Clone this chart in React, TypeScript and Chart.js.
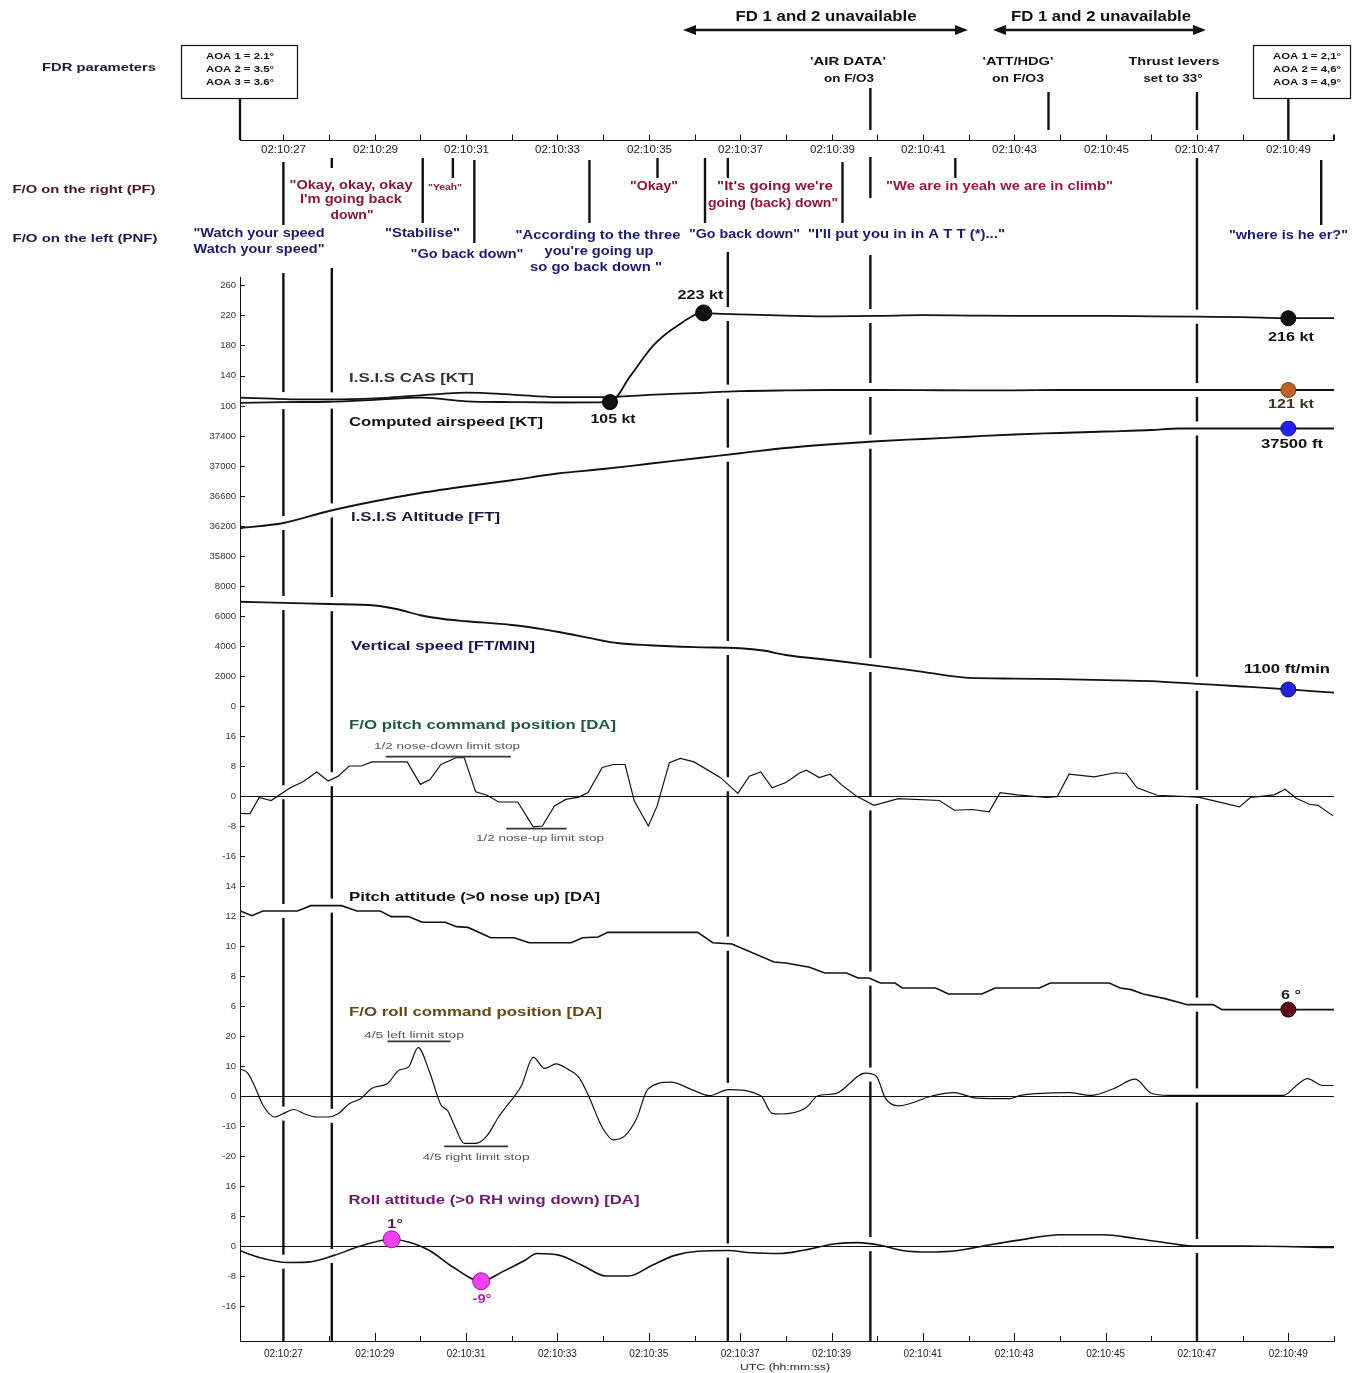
import React, { useEffect, useRef } from 'react';
import { Chart, registerables } from 'chart.js';
Chart.register(...registerables);

const FONT = '"Liberation Sans", Arial, Helvetica, sans-serif';

// time axis: seconds after 02:10:00 UTC
const X_MIN = 26.05;
const X_MAX = 50;
const xTickSeconds = [27, 28, 29, 30, 31, 32, 33, 34, 35, 36, 37, 38, 39, 40, 41, 42, 43, 44, 45, 46, 47, 48, 49, 50];

// Computed airspeed [KT]
const computedT = [26.05, 27, 28, 29, 30, 30.5, 31, 32, 33, 34.15, 34.6, 35.1, 35.6, 36.2, 36.5, 37, 38, 39, 40, 41, 42, 43, 44, 45, 46, 47, 48, 49, 50];
const computedV = [104, 105, 105.5, 108, 111, 109, 106, 105, 104.5, 105, 140, 180, 205, 223, 222, 221, 219.5, 218.5, 219, 220, 219.5, 219, 219, 219, 218.5, 218, 217.5, 216, 216];
// I.S.I.S CAS [KT]
const casT = [26.05, 27, 28, 29, 30, 31, 32, 33, 34, 35, 36, 37, 38, 39, 40, 41, 42, 43, 44, 45, 46, 47, 48, 49, 50];
const casV = [111, 109, 108.5, 110, 114, 117.5, 115, 111.5, 111.5, 114.5, 117, 119.5, 120.5, 121, 121, 120.8, 120.5, 120.5, 121, 121, 121, 121, 121, 121, 121];
// I.S.I.S Altitude [FT]
const altT = [26.05, 27, 28, 29, 30, 31, 32, 33, 34, 35, 36, 37, 38, 39, 40, 41, 42, 43, 44, 45, 46, 46.6, 47, 48, 49, 50];
const altV = [36170, 36240, 36400, 36530, 36640, 36730, 36810, 36900, 36960, 37030, 37100, 37170, 37240, 37290, 37330, 37360, 37390, 37420, 37440, 37460, 37480, 37500, 37500, 37500, 37500, 37500];
// Vertical speed [FT/MIN]
const vsT = [26.05, 27, 28, 29, 29.5, 30, 30.5, 31, 32, 32.7, 33, 34, 34.3, 35, 36, 37, 37.5, 38, 39, 40, 41, 42, 43, 44, 45, 46, 47, 48, 49, 50];
const vsV = [6950, 6870, 6800, 6700, 6450, 6050, 5800, 5650, 5400, 5110, 4950, 4350, 4200, 4050, 3920, 3850, 3700, 3400, 3050, 2680, 2270, 1870, 1830, 1790, 1730, 1660, 1480, 1300, 1110, 890];
// F/O pitch command position [DA]
const pcmdT = [26.04, 26.18, 26.27, 26.47, 26.73, 27.15, 27.43, 27.73, 27.98, 28.2, 28.44, 28.7, 28.94, 29.71, 30.0, 30.21, 30.45, 30.78, 30.96, 31.21, 31.46, 31.71, 32.13, 32.47, 32.67, 32.93, 33.18, 33.47, 33.67, 33.98, 34.22, 34.48, 34.68, 34.99, 35.18, 35.45, 35.69, 35.99, 36.32, 36.57, 36.95, 37.2, 37.45, 37.7, 38.0, 38.31, 38.45, 38.73, 38.97, 39.21, 39.54, 39.93, 40.46, 41.36, 41.69, 42.08, 42.45, 42.69, 43.07, 43.7, 43.94, 44.2, 44.75, 45.21, 45.45, 45.69, 46.13, 47.03, 47.93, 48.17, 48.69, 48.93, 49.17, 49.46, 49.65, 49.98];
const pcmdV = [-4.6, -4.7, -4.7, -0.4, -1.2, 2.2, 3.8, 6.4, 4.0, 5.3, 8.0, 8.0, 9.1, 9.1, 3.1, 4.4, 8.4, 10.2, 10.2, 1.1, 0.2, -1.6, -1.6, -8.2, -8.0, -2.7, -0.9, -0.3, 0.9, 7.6, 8.4, 8.4, -1.3, -8.0, -2.7, 8.9, 10.0, 9.1, 6.7, 4.9, 0.7, 5.3, 6.4, 2.2, 3.6, 6.2, 6.9, 4.9, 5.8, 3.1, 0, -2.5, -0.7, -1.2, -3.8, -3.6, -4.2, 0.9, 0.3, -0.4, -0.2, 5.8, 5.1, 6.2, 6.0, 2.2, 0.2, -0.3, -2.9, -0.4, 0.3, 1.8, -0.6, -2.2, -2.5, -5.3];
// Pitch attitude (>0 nose up) [DA]
const pattT = [26.04, 26.31, 26.55, 27.31, 27.6, 28.27, 28.61, 29.12, 29.36, 29.74, 30.04, 30.54, 30.79, 31.04, 31.54, 32.05, 32.38, 33.3, 33.55, 33.89, 34.1, 36.07, 36.4, 36.82, 37.74, 38.0, 38.52, 38.85, 39.33, 39.58, 39.82, 40.07, 40.39, 40.55, 41.28, 41.56, 42.29, 42.58, 43.55, 43.79, 45.08, 45.32, 45.56, 45.82, 46.3, 46.79, 47.35, 47.55, 50];
const pattV = [12.36, 12.02, 12.33, 12.33, 12.69, 12.69, 12.33, 12.33, 11.96, 11.96, 11.58, 11.58, 11.29, 11.24, 10.55, 10.55, 10.22, 10.22, 10.55, 10.6, 10.91, 10.91, 10.22, 10.13, 8.93, 8.87, 8.58, 8.2, 8.2, 7.87, 7.87, 7.53, 7.53, 7.2, 7.2, 6.8, 6.8, 7.2, 7.2, 7.53, 7.53, 7.2, 7.09, 6.8, 6.49, 6.09, 6.09, 5.76, 5.76];
// F/O roll command position [DA]
const rcmdT = [26.04, 26.22, 26.39, 26.55, 26.81, 26.98, 27.23, 27.47, 27.73, 27.98, 28.19, 28.44, 28.69, 28.94, 29.28, 29.53, 29.74, 29.95, 30.2, 30.45, 30.6, 30.75, 30.96, 31.21, 31.46, 31.71, 31.88, 32.21, 32.47, 32.72, 32.97, 33.22, 33.47, 33.71, 33.89, 34.0, 34.22, 34.48, 34.73, 34.98, 35.48, 35.99, 36.32, 36.74, 37.45, 37.7, 37.88, 38.45, 38.69, 39.09, 39.74, 39.98, 40.18, 40.47, 41.2, 41.68, 42.17, 42.9, 43.14, 44.2, 44.68, 45.17, 45.65, 45.98, 46.38, 48.89, 49.22, 49.42, 49.75, 49.99];
const rcmdV = [9.1, 7.6, 2.6, -3.0, -7.0, -6.0, -4.5, -6.0, -7.0, -7.0, -6.0, -2.6, -0.9, 2.6, 4.2, 8.6, 9.7, 16.1, 8.0, -3.0, -5.0, -10.0, -15.8, -15.8, -13.2, -7.0, -3.5, 3.4, 12.9, 9.2, 10.7, 9.0, 6.2, -1.0, -7.6, -11.0, -14.6, -13.2, -7.6, 2.3, 4.6, 1.8, 0.1, 2.1, 0.1, -5.8, -6.0, -3.8, 0, 0.8, 7.6, 6.6, -0.8, -3.3, 0, 1.1, -0.7, -0.9, 0.2, 1.1, 0.2, 2.4, 5.6, 1.1, 0.2, 0.2, 4.1, 5.8, 3.5, 3.5];
// Roll attitude (>0 RH wing down) [DA]
const rattT = [26.04, 26.43, 27.1, 27.52, 28.11, 28.69, 29.37, 29.86, 30.2, 30.71, 31.33, 31.79, 32.29, 32.55, 33.05, 33.55, 34.06, 34.56, 35.06, 35.57, 36.07, 36.74, 37.24, 37.88, 38.36, 39.09, 39.58, 40.07, 40.55, 41.12, 41.77, 42.41, 43.06, 44.03, 44.93, 45.66, 46.47, 46.87, 48.0, 50];
const rattV = [-1.2, -2.9, -4.4, -4.3, -2.5, 0, 1.8, 0.6, -1.2, -5.6, -9.4, -6.9, -3.8, -2.0, -2.5, -5.2, -8.0, -8.0, -5.2, -2.5, -1.4, -1.2, -1.8, -2.0, -1.2, 0.6, 0.9, 0.2, -1.2, -1.6, -1.2, 0.2, 1.5, 3.0, 3.0, 2.0, 0.6, 0, 0, -0.4];

// limit stops [time start, time end], value
const noseDownStopT = [29.24, 31.98];
const noseDownStopV = [10.5, 10.5];
const noseUpStopT = [31.88, 33.2];
const noseUpStopV = [-8.7, -8.7];
const leftStopT = [29.28, 30.66];
const leftStopV = [18.2, 18.2];
const rightStopT = [30.52, 31.92];
const rightStopV = [-16.8, -16.8];

// highlighted values
const markCasLow = { t: 34.15, v: 105 };
const markCasHigh = { t: 36.2, v: 223 };
const markCasEnd = { t: 49, v: 216 };
const markIsisEnd = { t: 49, v: 121 };
const markAltEnd = { t: 49, v: 37500 };
const markVsEnd = { t: 49, v: 1100 };
const markPattEnd = { t: 49, v: 5.76 };
const markRollHigh = { t: 29.37, v: 1.8 };
const markRollLow = { t: 31.33, v: -9.4 };

// event times (vertical lines)
const eventTimes = [26.05, 27.0, 28.06, 30.05, 30.71, 31.18, 33.7, 35.19, 36.23, 36.73, 39.24, 39.85, 41.71, 43.75, 47.0, 49.0, 49.72];

// y-axis ticks per panel
const casTicks = [100, 140, 180, 220, 260];
const altTicks = [35800, 36200, 36600, 37000, 37400];
const vsTicks = [0, 2000, 4000, 6000, 8000];
const pcmdTicks = [-16, -8, 0, 8, 16];
const pattTicks = [6, 8, 10, 12, 14];
const rcmdTicks = [-20, -10, 0, 10, 20];
const rattTicks = [-16, -8, 0, 8, 16];

const pts = (ts: number[], vs: number[]) => ts.map((t, i) => ({ x: t, y: vs[i] }));

function interp(ts: number[], vs: number[], t: number) {
  if (t <= ts[0]) return vs[0];
  for (let i = 1; i < ts.length; i++) {
    if (t <= ts[i]) {
      const f = (t - ts[i - 1]) / (ts[i] - ts[i - 1]);
      return vs[i - 1] + f * (vs[i] - vs[i - 1]);
    }
  }
  return vs[vs.length - 1];
}

function txt(ctx: CanvasRenderingContext2D, s: string, x: number, y: number, size: number, bold: boolean, color: string, w?: number, align: CanvasTextAlign = 'center') {
  ctx.save();
  ctx.font = `${bold ? 'bold ' : ''}${size}px ${FONT}`;
  const m = ctx.measureText(s).width;
  const sx = w ? w / m : 1;
  ctx.translate(x, y);
  ctx.scale(sx, 1);
  ctx.fillStyle = color;
  ctx.textAlign = align;
  ctx.textBaseline = 'middle';
  ctx.fillText(s, 0, 0);
  ctx.restore();
}

const PF = '#861736';
const PNF = '#1b1b66';

const annotPlugin = {
  id: 'annot',
  beforeDatasetsDraw(chart: any) {
    const ctx: CanvasRenderingContext2D = chart.ctx;
    const xs = chart.scales.x;
    const area = chart.chartArea;
    const X = (t: number) => xs.getPixelForValue(t);
    ctx.save();
    // zero lines
    ctx.strokeStyle = '#111';
    ctx.lineWidth = 1;
    ['yPcmd', 'yRcmd', 'yRatt'].forEach((id) => {
      const y = Math.round(chart.scales[id].getPixelForValue(0)) + 0.5;
      ctx.beginPath();
      ctx.moveTo(area.left, y);
      ctx.lineTo(area.right, y);
      ctx.stroke();
    });
    // inward ticks on y axes
    ['yCas', 'yAlt', 'yVs', 'yPcmd', 'yPatt', 'yRcmd', 'yRatt'].forEach((id) => {
      const sc = chart.scales[id];
      sc.ticks.forEach((tk: any) => {
        const y = Math.round(sc.getPixelForValue(tk.value)) + 0.5;
        ctx.beginPath();
        ctx.moveTo(area.left, y);
        ctx.lineTo(area.left + 5, y);
        ctx.stroke();
      });
    });
    // inward ticks on bottom axis and top axis
    const topY = 140.5;
    ctx.beginPath();
    ctx.moveTo(area.left, topY);
    ctx.lineTo(area.right, topY);
    ctx.stroke();
    xTickSeconds.forEach((s) => {
      const x = Math.round(X(s)) + 0.5;
      const major = s % 2 === 1;
      ctx.beginPath();
      ctx.moveTo(x, area.bottom);
      ctx.lineTo(x, area.bottom - (major ? 8 : 5));
      ctx.moveTo(x, topY);
      ctx.lineTo(x, topY - 6);
      ctx.stroke();
      if (major) txt(ctx, `02:10:${s}`, x, 150, 10, false, '#222', 45);
    });
    ctx.beginPath();
    ctx.moveTo(area.left + 0.5, topY);
    ctx.lineTo(area.left + 0.5, topY - 6);
    ctx.moveTo(area.right - 0.5, topY);
    ctx.lineTo(area.right - 0.5, topY - 6);
    ctx.stroke();

    // event lines with gaps where they cross curves
    const segs: number[][][] = [
      [[98, 140]],
      [[162, 225], [273, 1341]],
      [[158, 168], [268, 1341]],
      [[158, 223]],
      [[158, 178]],
      [[160, 243]],
      [[160, 223]],
      [[158, 178]],
      [[158, 223]],
      [[158, 178], [252, 1341]],
      [[162, 223]],
      [[88, 130], [157, 198], [255, 1341]],
      [[158, 178]],
      [[92, 130]],
      [[92, 130], [158, 1341]],
      [[98, 140]],
      [[160, 225]],
    ];
    const curves: [number[], number[], string][] = [
      [computedT, computedV, 'yCas'], [casT, casV, 'yCas'], [altT, altV, 'yAlt'], [vsT, vsV, 'yVs'],
      [pcmdT, pcmdV, 'yPcmd'], [pattT, pattV, 'yPatt'], [rcmdT, rcmdV, 'yRcmd'], [rattT, rattV, 'yRatt'],
    ];
    ctx.strokeStyle = '#111';
    ctx.lineWidth = 2.4;
    eventTimes.forEach((t, i) => {
      const x = X(t);
      const gaps = curves.map(([ts, vs, id]) => {
        const y = chart.scales[id].getPixelForValue(interp(ts, vs, t));
        return [y - 7, y + 7];
      }).sort((a, b) => a[0] - b[0]);
      segs[i].forEach(([a, b]) => {
        let cur = a;
        gaps.forEach(([g0, g1]) => {
          if (g1 < cur || g0 > b) return;
          if (g0 > cur) {
            ctx.beginPath();
            ctx.moveTo(x, cur);
            ctx.lineTo(x, g0);
            ctx.stroke();
          }
          cur = Math.max(cur, g1);
        });
        if (cur < b) {
          ctx.beginPath();
          ctx.moveTo(x, cur);
          ctx.lineTo(x, b);
          ctx.stroke();
        }
      });
    });

    // FDR boxes
    ctx.lineWidth = 1.2;
    ctx.strokeRect(181.5, 45.5, 116, 53);
    ctx.strokeRect(1253.5, 45.5, 97, 53);

    // FD arrows
    const arrow = (x1: number, x2: number, y: number) => {
      ctx.lineWidth = 2.4;
      ctx.beginPath();
      ctx.moveTo(x1 + 6, y);
      ctx.lineTo(x2 - 6, y);
      ctx.stroke();
      ctx.fillStyle = '#111';
      ctx.beginPath();
      ctx.moveTo(x1, y); ctx.lineTo(x1 + 13, y - 5); ctx.lineTo(x1 + 13, y + 5); ctx.closePath(); ctx.fill();
      ctx.beginPath();
      ctx.moveTo(x2, y); ctx.lineTo(x2 - 13, y - 5); ctx.lineTo(x2 - 13, y + 5); ctx.closePath(); ctx.fill();
    };
    arrow(683, 968, 30);
    arrow(993, 1206, 30);
    ctx.restore();
  },
  afterDraw(chart: any) {
    const ctx: CanvasRenderingContext2D = chart.ctx;
    // header
    txt(ctx, 'FD 1 and 2 unavailable', 826, 17, 14, true, '#111', 181);
    txt(ctx, 'FD 1 and 2 unavailable', 1101, 17, 14, true, '#111', 180);
    txt(ctx, 'FDR parameters', 99, 68, 11.5, true, '#1a1a33', 114);
    txt(ctx, 'AOA 1 = 2.1\u00b0', 240, 57, 8.5, true, '#111', 68);
    txt(ctx, 'AOA 2 = 3.5\u00b0', 240, 70, 8.5, true, '#111', 68);
    txt(ctx, 'AOA 3 = 3.6\u00b0', 240, 83, 8.5, true, '#111', 68);
    txt(ctx, 'AOA 1 = 2,1\u00b0', 1307, 57, 8.5, true, '#111', 68);
    txt(ctx, 'AOA 2 = 4,6\u00b0', 1307, 70, 8.5, true, '#111', 68);
    txt(ctx, 'AOA 3 = 4,9\u00b0', 1307, 83, 8.5, true, '#111', 68);
    txt(ctx, "'AIR DATA'", 848, 62, 11, true, '#111', 76);
    txt(ctx, 'on F/O3', 849, 79, 11, true, '#111', 50);
    txt(ctx, "'ATT/HDG'", 1018, 62, 11, true, '#111', 71);
    txt(ctx, 'on F/O3', 1018, 79, 11, true, '#111', 52);
    txt(ctx, 'Thrust levers', 1174, 62, 11, true, '#111', 91);
    txt(ctx, 'set to 33\u00b0', 1173, 79, 11, true, '#111', 59);
    txt(ctx, 'F/O on the right (PF)', 84, 190, 11.5, true, '#4a1528', 143);
    txt(ctx, 'F/O on the left (PNF)', 85, 239, 11.5, true, '#1a1a4a', 145);

    // PF quotes
    txt(ctx, '"Okay, okay, okay', 351, 186, 12, true, PF, 123);
    txt(ctx, "I'm going back", 351, 200, 12, true, PF, 102);
    txt(ctx, 'down"', 352, 216, 12, true, PF, 43);
    txt(ctx, '"Yeah"', 445, 188, 9, true, PF, 34);
    txt(ctx, '"Okay"', 654, 187, 12, true, PF, 48);
    txt(ctx, '"It\'s going we\'re', 775, 187, 12, true, PF, 116);
    txt(ctx, 'going (back) down"', 773, 204, 12, true, PF, 130);
    txt(ctx, '"We are in yeah we are in climb"', 999.5, 187, 12, true, '#9a1840', 227);
    // PNF quotes
    txt(ctx, '"Watch your speed', 259, 234, 12, true, PNF, 131);
    txt(ctx, 'Watch your speed"', 259, 250, 12, true, PNF, 131);
    txt(ctx, '"Stabilise"', 422.5, 234, 12, true, PNF, 75);
    txt(ctx, '"Go back down"', 467, 255, 12, true, PNF, 113);
    txt(ctx, '"According to the three', 598, 236, 12, true, PNF, 165);
    txt(ctx, "you're going up", 599, 252, 12, true, PNF, 109);
    txt(ctx, 'so go back down "', 596, 268, 12, true, PNF, 132);
    txt(ctx, '"Go back down"', 744.5, 235, 12, true, PNF, 111);
    txt(ctx, '"I\'ll put you in in A T T (*)..."', 906.5, 235, 12, true, PNF, 197);
    txt(ctx, '"where is he er?"', 1288.5, 236, 12, true, PNF, 119);

    // panel labels
    txt(ctx, 'I.S.I.S CAS [KT]', 349, 378, 13.5, true, '#33333f', 125, 'left');
    txt(ctx, 'Computed airspeed [KT]', 349, 422, 13.5, true, '#111', 194, 'left');
    txt(ctx, '105 kt', 613, 419, 13, true, '#111', 45);
    txt(ctx, '223 kt', 700.5, 295, 13, true, '#111', 46);
    txt(ctx, '216 kt', 1291, 337, 13, true, '#111', 46);
    txt(ctx, '121 kt', 1291, 404, 13, true, '#3d3020', 46);
    txt(ctx, '37500 ft', 1292, 444, 13, true, '#111', 62);
    txt(ctx, 'I.S.I.S Altitude [FT]', 351, 517, 13.5, true, '#1a1a3a', 149, 'left');
    txt(ctx, 'Vertical speed [FT/MIN]', 351, 646, 13.5, true, '#16164e', 184, 'left');
    txt(ctx, '1100 ft/min', 1287, 669, 13, true, '#111', 86);
    txt(ctx, 'F/O pitch command position [DA]', 349, 725, 13.5, true, '#1f5646', 267, 'left');
    txt(ctx, '1/2 nose-down limit stop', 447, 746, 9.5, false, '#555', 146);
    txt(ctx, '1/2 nose-up limit stop', 540, 838, 9.5, false, '#555', 128);
    txt(ctx, 'Pitch attitude (>0 nose up) [DA]', 349, 897, 13.5, true, '#111', 251, 'left');
    txt(ctx, '6 \u00b0', 1291, 995, 13, true, '#222', 20);
    txt(ctx, 'F/O roll command position [DA]', 349, 1012, 13.5, true, '#664816', 253, 'left');
    txt(ctx, '4/5 left limit stop', 414, 1035, 9.5, false, '#555', 100);
    txt(ctx, '4/5 right limit stop', 476, 1157, 9.5, false, '#555', 107);
    txt(ctx, 'Roll attitude (>0 RH wing down) [DA]', 348.5, 1200, 13.5, true, '#6e1a6e', 291, 'left');
    txt(ctx, '1\u00b0', 395, 1225, 12.5, true, '#5a1a5a', 16);
    txt(ctx, '-9\u00b0', 482, 1300, 12.5, true, '#c020c0', 19);
    txt(ctx, 'UTC (hh:mm:ss)', 785, 1367, 9.5, false, '#222', 90);
  },
};

const line = (data: any[], yAxisID: string, width: number, mode: 'straight' | 'smooth') => ({
  data,
  yAxisID,
  borderColor: '#111',
  borderWidth: width,
  pointRadius: 0,
  tension: 0,
  cubicInterpolationMode: mode === 'smooth' ? 'monotone' : 'default',
  fill: false,
  order: 2,
});

const marker = (m: { t: number; v: number }, yAxisID: string, fillColor: string, edge: string, r: number) => ({
  data: [{ x: m.t, y: m.v }],
  yAxisID,
  showLine: false,
  pointRadius: r,
  pointBackgroundColor: fillColor,
  pointBorderColor: edge,
  pointBorderWidth: 1,
  order: 0,
});

const stop = (ts: number[], vs: number[], yAxisID: string) => ({
  data: pts(ts, vs),
  yAxisID,
  borderColor: '#333',
  borderWidth: 1.6,
  pointRadius: 0,
  order: 1,
});

const yAxis = (min: number, max: number, ticks: number[], stackWeight: number, weight: number) => ({
  type: 'linear',
  position: 'left',
  stack: 'panels',
  stackWeight,
  weight,
  min,
  max,
  afterBuildTicks: (s: any) => {
    s.ticks = ticks.map((v) => ({ value: v }));
  },
  afterFit: (s: any) => {
    s.width = 40;
  },
  grid: { display: false, drawTicks: false, tickLength: 0 },
  border: { display: true, color: '#111', width: 1 },
  ticks: {
    font: { family: FONT, size: 9.5 },
    color: '#333',
    padding: 4,
    autoSkip: false,
    callback: (v: any) => String(v),
  },
});

export default function App() {
  const ref = useRef<HTMLCanvasElement>(null);
  useEffect(() => {
    if (!ref.current) return;
    const chart = new Chart(ref.current, {
      type: 'line',
      data: {
        datasets: [
          line(pts(computedT, computedV), 'yCas', 1.8, 'smooth'),
          line(pts(casT, casV), 'yCas', 1.8, 'smooth'),
          line(pts(altT, altV), 'yAlt', 1.8, 'smooth'),
          line(pts(vsT, vsV), 'yVs', 1.8, 'smooth'),
          line(pts(pcmdT, pcmdV), 'yPcmd', 1.2, 'straight'),
          line(pts(pattT, pattV), 'yPatt', 1.6, 'straight'),
          line(pts(rcmdT, rcmdV), 'yRcmd', 1.2, 'smooth'),
          line(pts(rattT, rattV), 'yRatt', 1.6, 'smooth'),
          stop(noseDownStopT, noseDownStopV, 'yPcmd'),
          stop(noseUpStopT, noseUpStopV, 'yPcmd'),
          stop(leftStopT, leftStopV, 'yRcmd'),
          stop(rightStopT, rightStopV, 'yRcmd'),
          marker(markCasLow, 'yCas', '#111', '#000', 7.5),
          marker(markCasHigh, 'yCas', '#111', '#000', 8),
          marker(markCasEnd, 'yCas', '#111', '#000', 7.5),
          marker(markIsisEnd, 'yCas', '#c0602a', '#7a3a12', 7.5),
          marker(markAltEnd, 'yAlt', '#2424f0', '#10106a', 7.5),
          marker(markVsEnd, 'yVs', '#2424e0', '#10106a', 7.5),
          marker(markPattEnd, 'yPatt', '#5e0c1c', '#2a0008', 7.5),
          marker(markRollHigh, 'yRatt', '#f040f0', '#a010a0', 8.5),
          marker(markRollLow, 'yRatt', '#f040f0', '#a010a0', 8.5),
        ] as any,
      },
      options: {
        responsive: false,
        animation: false,
        events: [],
        layout: { padding: { top: 277.4, left: 200, right: 26, bottom: 0 } },
        plugins: { legend: { display: false }, tooltip: { enabled: false } },
        scales: {
          x: {
            type: 'linear',
            position: 'bottom',
            min: X_MIN,
            max: X_MAX,
            afterBuildTicks: (s: any) => {
              s.ticks = xTickSeconds.map((v) => ({ value: v }));
            },
            afterFit: (s: any) => {
              s.height = 32;
            },
            grid: { display: false, drawTicks: false, tickLength: 0 },
            border: { display: true, color: '#111', width: 1 },
            ticks: {
              autoSkip: false,
              maxRotation: 0,
              padding: 7,
              color: '#222',
              font: { family: FONT, size: 10 },
              callback: (v: any) => (Math.round(v) % 2 === 1 ? `02:10:${Math.round(v)}` : ''),
            },
          },
          yCas: yAxis(80, 270, casTicks, 143.6, 7),
          yAlt: yAxis(35600, 37600, altTicks, 150, 6),
          yVs: yAxis(-1000, 9000, vsTicks, 150, 5),
          yPcmd: yAxis(-20, 20, pcmdTicks, 150, 4),
          yPatt: yAxis(5, 15, pattTicks, 150, 3),
          yRcmd: yAxis(-25, 25, rcmdTicks, 150, 2),
          yRatt: yAxis(-25.33, 20, rattTicks, 170, 1),
        } as any,
      },
      plugins: [annotPlugin as any],
    });
    return () => chart.destroy();
  }, []);
  return (
    <div style={{ position: 'absolute', left: 0, top: 0, width: 1360, height: 1373, background: '#fff' }}>
      <canvas ref={ref} width={1360} height={1373} style={{ width: 1360, height: 1373, display: 'block' }} />
    </div>
  );
}
